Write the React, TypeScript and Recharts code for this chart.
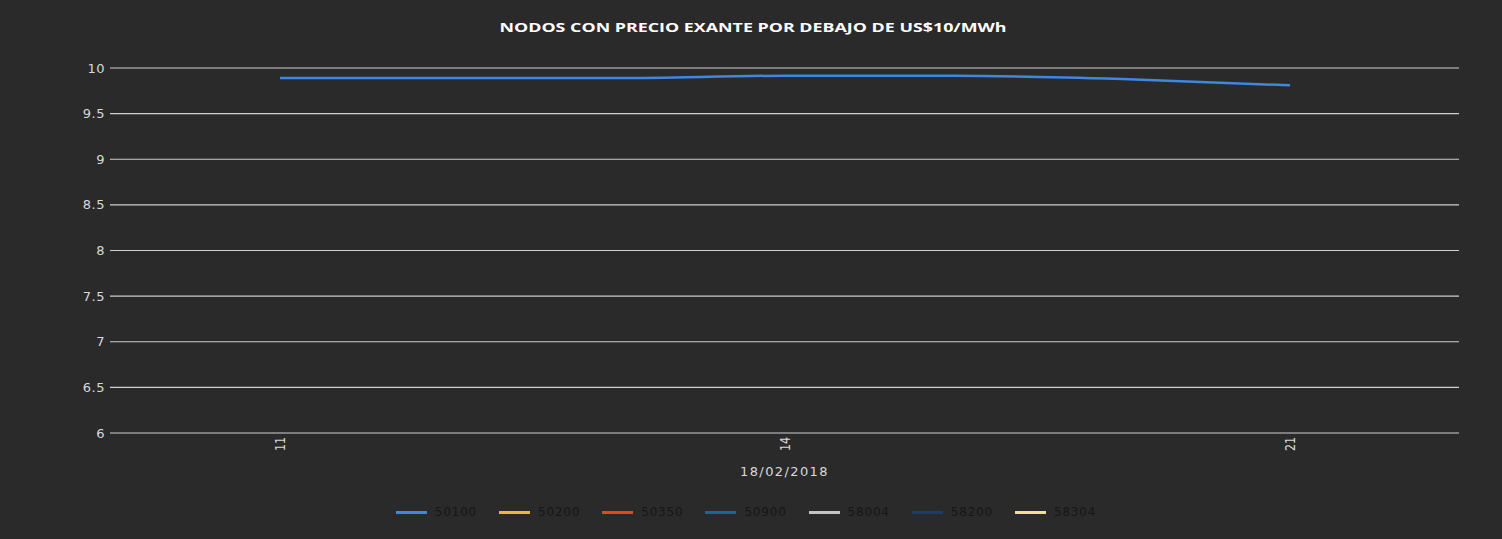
import React from 'react';
import { LineChart, Line, XAxis, YAxis, CartesianGrid, Legend, Label } from 'recharts';

// hours of 18/02/2018 (only every third one is labelled in the original)
const hours = ['11', '12', '13', '14', '18', '19', '21'];

const n50100 = [9.89, 9.89, 9.89, 9.915, 9.915, 9.88, 9.81];
const n50200: (number | null)[] = [null, null, null, null, null, null, null];
const n50350: (number | null)[] = [null, null, null, null, null, null, null];
const n50900: (number | null)[] = [null, null, null, null, null, null, null];
const n58004: (number | null)[] = [null, null, null, null, null, null, null];
const n58200: (number | null)[] = [null, null, null, null, null, null, null];
const n58304: (number | null)[] = [null, null, null, null, null, null, null];

const yTicks = [6, 6.5, 7, 7.5, 8, 8.5, 9, 9.5, 10];

const series = [
  { key: '50100', values: n50100, color: '#3f87e2' },
  { key: '50200', values: n50200, color: '#f2b33d' },
  { key: '50350', values: n50350, color: '#e24b10' },
  { key: '50900', values: n50900, color: '#0e6b9c' },
  { key: '58004', values: n58004, color: '#c4c4c4' },
  { key: '58200', values: n58200, color: '#1c3c6e' },
  { key: '58304', values: n58304, color: '#f3e18a' },
];

const data = hours.map((h, i) => {
  const row: Record<string, any> = { hour: h };
  series.forEach((s) => {
    row[s.key] = s.values[i];
  });
  return row;
});

const BG = '#2a2a2a';
const TXT = '#d9d9d9';

const XTick = (props: any) => {
  const { x, y, payload } = props;
  return (
    <g transform={`translate(${x},${y}) scale(1.35,1) rotate(-90)`}>
      <text x={0} y={0} dy="0.35em" textAnchor="end" fill={TXT} fontSize={11} fontFamily="DejaVu Sans">
        {payload.value}
      </text>
    </g>
  );
};

const renderLegend = (props: any) => {
  const { payload } = props;
  return (
    <div style={{ display: 'flex', justifyContent: 'center', height: 24, alignItems: 'center', paddingLeft: 12 }}>
      {payload.map((p: any) => (
        <div key={p.value} style={{ display: 'flex', alignItems: 'center', marginRight: 22 }}>
          <div style={{ width: 31, height: 3, background: p.color, marginRight: 8 }} />
          <span style={{ fontFamily: 'DejaVu Sans', fontSize: 12, letterSpacing: 0.8, color: '#161616' }}>
            {p.value}
          </span>
        </div>
      ))}
    </div>
  );
};

const App: React.FC = () => (
  <div style={{ position: 'absolute', left: 0, top: 0, width: 1502, height: 539, background: BG }}>
    <svg width={1502} height={50} style={{ position: 'absolute', left: 0, top: 0, pointerEvents: 'none' }}>
      <text
        x={753}
        y={32}
        textAnchor="middle"
        textLength={507}
        lengthAdjust="spacingAndGlyphs"
        fill="#ffffff"
        fontFamily="Open Sans"
        fontWeight="bold"
        fontSize={11.5}
      >
        NODOS CON PRECIO EXANTE POR DEBAJO DE US$10/MWh
      </text>
    </svg>
    <LineChart width={1502} height={539} data={data} margin={{ top: 68, right: 43, left: 0, bottom: 0 }}>
      <CartesianGrid vertical={false} stroke="#cfcfcf" strokeWidth={1.2} />
      <XAxis
        dataKey="hour"
        interval={2}
        padding={{ left: 170, right: 169 }}
        axisLine={false}
        tickLine={false}
        tickSize={0}
        tickMargin={4}
        height={82}
        tick={<XTick />}
      >
        <Label
          value="18/02/2018"
          position="insideTop"
          offset={34}
          fill={TXT}
          fontSize={13}
          fontFamily="DejaVu Sans"
          letterSpacing={1.4}
        />
      </XAxis>
      <YAxis
        domain={[6, 10]}
        ticks={yTicks}
        width={110}
        axisLine={false}
        tickLine={false}
        tickSize={0}
        tickMargin={5}
        tick={{ fill: TXT, fontSize: 13, fontFamily: 'DejaVu Sans', letterSpacing: 0.5 }}
      />
      <Legend
        verticalAlign="bottom"
        content={renderLegend}
        wrapperStyle={{ left: 0, width: 1502, bottom: 15 }}
      />
      {series.map((s) => (
        <Line
          key={s.key}
          dataKey={s.key}
          name={s.key}
          type="monotone"
          stroke={s.color}
          strokeWidth={2.5}
          dot={false}
          isAnimationActive={false}
        />
      ))}
    </LineChart>
  </div>
);

export default App;
